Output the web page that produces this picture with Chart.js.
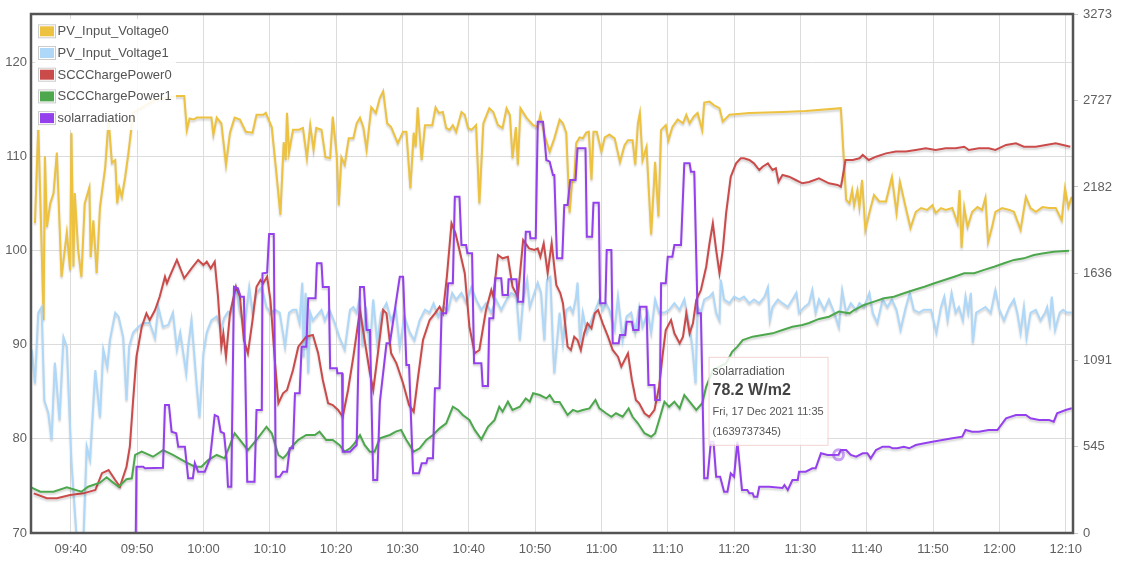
<!DOCTYPE html>
<html>
<head>
<meta charset="utf-8">
<script src="https://cdn.jsdelivr.net/npm/chart.js@4.4.1/dist/chart.umd.min.js"></script>
<style>
  html, body { margin: 0; padding: 0; background: #fff; }
  canvas { display: block; }
</style>
</head>
<body>
<canvas id="chart" width="1129" height="568"></canvas>
<script>
// series names / colours (legend order)
const seriesNames = ["PV_Input_Voltage0", "PV_Input_Voltage1", "SCCChargePower0", "SCCChargePower1", "solarradiation"];
const seriesColors = ["#edc240", "#afd8f8", "#cb4b4b", "#4da74d", "#9440ed"];

// axis ticks
const timeTicks = [580, 590, 600, 610, 620, 630, 640, 650, 660, 670, 680, 690, 700, 710, 720, 730]; // minutes after midnight
const voltTicks = [70, 80, 90, 100, 110, 120];
const powerTicks = [0, 545.45, 1090.9, 1636.35, 2181.8, 2727.25, 3272.7];

// data: [minutes after midnight, value]
const pvVoltage0 = [[574.6,102.9],[575.1,113.3],[575.9,92.6],[576.1,110.0],[576.4,102.5],[576.9,105.0],[577.4,106.1],[577.9,110.4],[578.6,97.2],[579.4,101.9],[579.9,97.9],[580.1,112.5],[580.4,98.3],[580.6,106.1],[581.1,100.1],[581.6,97.2],[582.1,105.0],[582.8,106.7],[583.0,99.3],[583.4,103.2],[583.9,97.6],[584.4,104.6],[585.2,108.9],[585.7,113.9],[586.2,109.3],[586.7,109.6],[587.0,105.0],[587.3,106.7],[587.7,105.7],[588.2,107.8],[588.7,110.4],[589.4,114.6],[592.7,116.0],[596.0,116.4],[597.1,116.4],[597.5,112.8],[597.9,114.0],[598.5,113.9],[599.0,114.1],[601.2,114.1],[601.5,112.3],[602.0,114.1],[602.7,113.5],[603.4,109.1],[604.0,112.5],[604.7,114.1],[605.5,113.9],[606.4,112.6],[607.4,112.5],[608.0,114.4],[609.0,114.4],[609.4,114.6],[610.3,113.1],[611.0,108.2],[611.6,103.8],[612.1,111.5],[612.4,109.6],[612.6,114.6],[612.9,110.4],[613.5,112.8],[614.3,112.8],[615.0,113.0],[615.6,109.8],[616.1,113.3],[616.6,110.7],[617.0,113.0],[617.8,112.8],[618.4,109.9],[619.1,109.8],[619.5,114.2],[620.1,110.1],[620.4,104.8],[620.8,109.9],[621.3,109.1],[621.9,111.9],[622.6,111.9],[623.1,113.5],[623.6,114.1],[624.1,113.1],[624.6,110.7],[625.3,115.2],[626.0,114.6],[626.6,116.2],[627.1,116.9],[627.7,113.5],[628.3,113.1],[629.3,111.4],[630.1,112.6],[630.6,112.6],[631.2,106.6],[631.7,112.5],[632.0,111.0],[632.3,115.2],[632.9,109.6],[633.4,113.3],[634.5,113.3],[635.0,115.2],[635.5,114.6],[636.1,114.7],[636.6,113.0],[637.1,112.8],[637.6,113.3],[638.1,112.6],[638.9,114.7],[639.4,114.4],[639.9,113.0],[640.4,112.8],[641.1,113.3],[641.6,105.0],[642.2,113.5],[643.1,115.1],[643.7,114.7],[644.4,113.3],[645.1,113.0],[645.7,115.1],[646.2,114.4],[646.6,109.8],[647.1,113.1],[647.4,109.1],[647.8,115.1],[648.7,114.1],[649.7,113.3],[650.4,113.1],[650.8,114.4],[651.4,112.3],[652.2,110.5],[652.9,111.9],[653.7,113.9],[654.2,113.5],[654.7,112.5],[655.2,104.0],[655.6,107.5],[655.9,107.5],[656.2,111.4],[656.7,112.0],[657.2,111.9],[657.7,112.5],[658.1,112.6],[658.5,107.5],[658.8,112.6],[659.3,112.6],[660.0,110.5],[660.5,112.0],[661.2,112.3],[662.0,111.9],[662.8,109.4],[663.5,111.2],[664.0,111.7],[664.7,111.7],[665.1,109.1],[665.5,113.5],[665.8,114.6],[666.2,109.6],[666.8,111.0],[667.5,101.7],[668.1,109.4],[668.6,103.6],[669.0,112.8],[669.7,113.3],[670.1,111.7],[670.7,113.1],[671.5,113.9],[672.3,113.5],[672.8,114.4],[673.3,113.5],[673.9,114.2],[674.5,114.6],[675.2,112.8],[675.5,115.7],[676.3,115.8],[677.0,115.4],[677.8,115.1],[678.3,113.7],[679.3,114.4],[682.3,114.6],[687.3,114.7],[690.8,114.8],[696.1,115.1],[696.9,105.4],[697.4,105.0],[697.8,106.4],[698.1,104.8],[698.6,106.4],[698.9,104.6],[699.3,107.5],[699.8,102.2],[700.4,104.0],[701.1,105.9],[701.9,105.2],[702.9,105.2],[703.8,107.8],[704.5,104.0],[705.0,107.3],[705.9,104.5],[706.6,102.4],[707.4,104.1],[708.2,104.5],[709.1,104.3],[709.9,104.8],[710.4,104.0],[711.2,104.5],[711.9,104.3],[712.9,104.5],[713.7,102.9],[714.0,106.4],[714.3,100.3],[714.7,104.6],[715.2,102.5],[715.9,104.1],[716.7,104.6],[717.4,104.3],[717.9,105.6],[718.3,100.9],[718.9,102.5],[719.4,104.1],[720.4,104.5],[721.5,104.3],[722.2,104.1],[723.2,102.2],[724.0,105.7],[724.7,104.5],[725.5,104.1],[726.5,104.6],[727.5,104.5],[728.5,104.5],[729.4,103.2],[729.9,106.6],[730.4,104.6],[730.9,105.7]];

const pvVoltage1 = [[574.1,89.5],[574.6,85.9],[575.1,93.4],[575.6,94.0],[576.0,84.1],[576.6,82.8],[577.1,79.9],[577.6,88.1],[578.3,82.0],[578.9,90.8],[579.4,89.8],[580.1,77.5],[580.9,69.3],[581.9,69.3],[582.4,79.2],[582.9,77.8],[583.7,87.3],[584.4,82.3],[584.9,89.5],[585.5,87.6],[585.9,90.5],[586.7,93.4],[587.2,93.0],[587.9,90.8],[588.4,84.1],[588.8,89.8],[589.4,91.3],[590.2,91.9],[590.9,92.3],[591.9,92.3],[592.7,90.7],[593.2,94.0],[593.9,91.9],[594.7,92.1],[595.4,93.4],[596.0,89.5],[596.5,91.3],[597.4,87.0],[597.7,89.8],[598.2,92.6],[599.0,85.5],[599.4,82.3],[600.0,89.1],[600.5,91.3],[601.2,92.6],[602.0,93.0],[602.7,91.6],[603.1,92.8],[603.7,93.5],[604.2,93.4],[604.9,96.1],[605.5,93.5],[606.2,91.9],[606.9,96.1],[607.4,93.4],[608.0,95.5],[608.8,96.1],[609.5,94.0],[610.1,93.4],[610.8,93.7],[611.5,93.4],[612.3,89.8],[612.9,93.4],[613.5,93.7],[614.0,93.7],[614.5,92.3],[614.9,96.6],[615.1,88.7],[615.4,95.5],[615.8,87.0],[616.1,93.4],[616.5,92.6],[617.0,93.0],[617.8,93.7],[618.3,92.6],[619.0,93.7],[619.8,92.3],[620.5,90.8],[621.3,89.5],[622.1,93.7],[622.6,94.0],[623.1,93.4],[623.6,95.1],[624.0,89.8],[624.5,94.0],[625.1,89.5],[625.6,94.8],[626.2,90.2],[626.8,93.4],[627.6,94.4],[628.3,92.6],[629.0,93.7],[629.6,89.8],[630.3,93.0],[631.1,91.3],[631.8,90.5],[632.6,92.6],[633.4,93.7],[634.1,93.4],[634.7,94.4],[635.4,93.0],[636.1,94.0],[636.9,93.7],[637.5,95.5],[638.1,94.8],[638.9,95.5],[639.6,94.5],[640.4,96.1],[641.1,94.8],[641.9,93.7],[642.6,94.4],[643.4,93.4],[644.1,94.8],[644.9,93.7],[645.7,94.8],[646.4,95.5],[647.2,95.1],[647.7,90.5],[648.2,94.8],[648.8,96.9],[649.2,94.0],[649.9,95.5],[650.4,96.6],[650.9,95.5],[651.4,90.5],[651.8,96.9],[652.3,97.2],[652.7,89.8],[652.9,87.0],[653.7,93.4],[654.2,90.2],[654.7,93.7],[655.3,94.0],[655.7,93.4],[656.2,95.1],[656.4,96.6],[656.8,90.2],[657.2,93.4],[657.8,91.3],[658.5,92.6],[659.1,93.7],[659.7,94.8],[660.2,93.7],[660.7,94.4],[661.2,93.7],[662.0,91.6],[662.5,95.1],[663.2,90.5],[663.8,93.0],[664.5,93.4],[665.1,91.3],[665.7,94.0],[666.2,91.9],[667.0,93.4],[667.5,91.3],[668.1,94.8],[668.7,93.4],[669.5,93.4],[670.2,93.7],[671.0,94.4],[671.8,93.7],[672.5,94.8],[673.3,91.9],[673.7,89.8],[674.2,85.9],[674.5,94.0],[675.0,93.4],[675.5,94.8],[676.3,95.1],[676.8,95.5],[677.3,93.4],[677.8,92.6],[678.0,96.9],[678.5,94.8],[679.3,94.4],[680.0,95.1],[680.8,94.8],[681.5,95.1],[682.3,94.4],[683.0,94.8],[683.8,94.4],[684.6,95.1],[685.1,96.1],[685.4,92.6],[685.8,94.0],[686.6,94.8],[687.3,94.4],[688.1,94.0],[688.8,94.8],[689.4,95.5],[689.8,93.4],[690.6,94.0],[691.3,94.4],[691.8,95.8],[692.3,93.4],[692.8,94.8],[693.6,93.7],[694.3,94.8],[695.1,93.4],[695.8,91.9],[696.3,95.8],[696.9,93.4],[697.6,94.4],[698.4,93.7],[698.9,94.4],[699.6,94.0],[700.4,95.5],[700.9,93.4],[701.6,92.3],[702.4,94.8],[703.1,94.0],[703.8,94.8],[704.5,93.7],[705.1,91.6],[705.9,94.0],[706.5,95.5],[707.1,93.7],[707.9,93.4],[708.6,93.7],[709.7,93.7],[710.5,91.3],[711.2,94.0],[711.7,95.1],[712.2,92.6],[712.8,95.5],[713.4,93.4],[713.9,94.0],[714.5,92.6],[714.9,95.1],[715.3,93.4],[715.7,95.5],[716.0,90.2],[716.5,93.4],[717.2,93.7],[717.9,94.0],[718.7,93.4],[719.4,95.8],[720.0,93.7],[720.7,92.6],[721.5,94.0],[722.2,94.8],[722.7,93.4],[723.2,91.3],[723.7,94.0],[724.1,90.8],[724.7,93.4],[725.5,93.7],[726.2,92.6],[726.9,93.4],[727.2,94.0],[727.6,92.3],[727.9,95.1],[728.4,91.6],[729.1,93.4],[729.6,93.7],[730.2,93.4],[730.9,93.4]];

const sccPower0 = [[574.4,250],[576.4,219],[577.9,219],[579.9,240],[581.9,250],[583.7,271],[584.7,377],[585.7,397],[586.7,334],[587.4,292],[588.4,418],[588.9,544],[589.4,839],[589.9,1112],[590.7,1301],[591.4,1385],[591.9,1343],[592.7,1406],[593.4,1490],[594.2,1616],[594.5,1575],[594.9,1616],[596.0,1722],[597.1,1606],[598.2,1669],[599.2,1722],[600.0,1690],[600.5,1711],[601.1,1669],[601.7,1711],[602.2,1490],[602.7,1175],[603.0,1259],[603.4,1112],[604.0,1385],[604.9,1553],[605.5,1490],[606.1,1217],[606.7,1133],[607.4,1343],[608.0,1553],[608.6,1595],[609.0,1575],[609.6,1616],[610.1,1469],[610.8,1070],[611.3,818],[612.0,881],[612.6,902],[613.5,1028],[614.3,1175],[615.5,1238],[616.5,1249],[617.3,1133],[618.0,965],[618.8,818],[619.5,807],[620.3,776],[621.0,733],[621.8,902],[622.6,1112],[623.6,1406],[624.3,1217],[625.1,1007],[625.6,902],[626.3,1133],[627.1,1406],[627.6,1385],[628.3,1133],[629.1,1070],[630.1,944],[631.0,807],[631.7,765],[632.3,965],[633.1,1217],[634.1,1343],[634.9,1385],[635.6,1427],[636.1,1385],[636.7,1616],[637.4,1953],[638.0,1890],[638.6,1785],[639.4,1638],[640.1,1301],[640.9,1133],[641.6,1154],[642.6,1406],[643.4,1532],[643.7,1490],[644.4,1753],[645.1,1732],[645.9,1742],[646.6,1553],[647.4,1490],[648.2,1848],[649.1,1795],[649.9,1785],[650.4,1795],[650.8,1742],[651.3,1827],[651.9,1640],[652.5,1829],[653.2,1564],[653.8,1513],[654.2,1449],[654.9,1175],[655.4,1154],[655.9,1238],[656.4,1217],[656.9,1154],[657.4,1259],[657.9,1322],[658.5,1291],[659.0,1385],[659.5,1406],[660.2,1322],[661.0,1238],[661.7,1154],[662.5,1112],[663.0,1049],[664.0,1133],[664.6,965],[665.2,839],[665.7,818],[666.5,755],[667.2,733],[668.0,776],[668.7,923],[669.2,1112],[669.7,1280],[670.5,1343],[671.0,1259],[671.8,1196],[672.3,1238],[672.8,1385],[673.3,1259],[673.8,1322],[674.3,1469],[675.0,1532],[675.8,1679],[676.3,1827],[676.8,1953],[677.3,1785],[677.8,1638],[678.3,1785],[678.8,2016],[679.5,2247],[680.3,2331],[681.0,2363],[681.5,2363],[682.3,2352],[683.0,2331],[683.8,2289],[684.3,2310],[685.1,2331],[685.8,2289],[686.3,2300],[686.7,2215],[687.3,2258],[688.3,2247],[689.3,2226],[690.3,2205],[691.3,2213],[692.8,2237],[694.3,2205],[695.6,2195],[696.1,2184],[696.3,2226],[696.8,2352],[697.9,2352],[698.9,2363],[699.4,2384],[700.3,2352],[701.4,2373],[702.9,2394],[704.4,2405],[705.9,2405],[707.4,2415],[708.9,2426],[710.4,2415],[711.9,2426],[713.4,2426],[714.7,2436],[715.4,2415],[716.9,2426],[718.4,2426],[719.4,2415],[721.0,2447],[722.5,2457],[723.7,2436],[725.5,2436],[727.0,2447],[728.5,2457],[730.7,2436]];

const sccPower1 = [[574.1,286],[575.4,260],[577.4,260],[579.4,288],[581.6,260],[582.6,292],[584.4,317],[585.4,351],[586.2,324],[587.2,292],[588.4,339],[589.2,345],[589.7,492],[590.7,513],[592.4,481],[593.9,523],[595.4,492],[597.2,450],[598.7,418],[599.7,418],[600.7,460],[602.0,492],[603.2,471],[604.7,629],[605.5,587],[606.7,523],[608.0,587],[609.5,670],[610.3,629],[611.3,492],[612.0,471],[612.5,492],[613.3,544],[614.3,587],[615.5,618],[616.8,618],[617.5,639],[618.5,587],[619.5,587],[620.5,555],[621.3,513],[622.1,534],[622.8,566],[623.6,618],[624.3,555],[625.1,513],[625.8,513],[626.6,597],[627.3,607],[628.1,618],[629.0,639],[629.8,650],[630.6,587],[631.7,513],[632.6,534],[633.6,587],[634.6,618],[635.6,660],[636.6,692],[637.6,796],[638.4,776],[639.1,744],[640.1,713],[640.9,650],[641.9,591],[642.9,670],[643.9,713],[644.6,796],[645.1,765],[645.9,828],[646.6,776],[647.7,796],[648.6,849],[649.2,828],[649.7,881],[650.7,870],[651.7,849],[652.2,870],[652.9,826],[653.7,826],[654.9,744],[655.7,776],[656.4,765],[657.2,776],[658.2,786],[659.1,839],[659.7,786],[660.7,755],[661.5,733],[662.2,755],[663.2,733],[664.1,786],[664.7,733],[665.5,692],[666.5,629],[667.5,607],[668.1,629],[668.7,713],[669.5,828],[670.2,796],[671.0,828],[671.8,786],[672.5,870],[673.3,828],[674.3,776],[675.2,818],[675.8,923],[676.8,1028],[677.8,1049],[678.8,1070],[679.7,1143],[680.5,1175],[681.3,1217],[682.8,1238],[684.3,1249],[685.8,1259],[687.3,1280],[688.8,1301],[690.3,1312],[691.3,1324],[692.8,1350],[694.3,1364],[695.8,1396],[697.4,1385],[698.1,1406],[699.6,1438],[701.1,1459],[702.6,1480],[704.1,1490],[705.6,1512],[707.1,1532],[708.7,1553],[710.2,1575],[711.7,1595],[713.2,1616],[714.7,1638],[716.2,1638],[717.7,1659],[719.2,1679],[720.7,1701],[722.2,1722],[723.7,1732],[725.2,1753],[726.7,1764],[728.2,1774],[730.5,1780]];

const solarRadiation = [[589.8,0],[589.9,66.3],[590.9,66.3],[591.2,64.7],[593.9,65.3],[594.2,128],[594.8,128],[595.2,101.3],[595.9,99.7],[596.2,86.3],[597.2,86.3],[597.7,54.7],[598.4,54.7],[598.7,70],[599.2,61.3],[600.2,61.3],[601.0,74.7],[601.7,118],[602.2,116.3],[602.6,101.3],[603.1,99.7],[603.5,73],[603.7,46.3],[604.2,46.3],[604.6,246.3],[605.2,244.7],[605.6,236.3],[606.1,236.3],[606.6,51.3],[607.7,51.3],[608.0,123],[608.8,123],[608.9,259.7],[609.6,260.3],[609.9,299],[610.6,299],[610.9,56.3],[611.5,56.3],[612.0,61.3],[612.6,61.3],[613.0,84.7],[613.5,84.7],[613.8,139.7],[614.5,139.7],[614.8,186.3],[615.5,186.3],[615.8,234.7],[616.9,234.7],[617.1,269.7],[617.8,269.7],[618.0,246],[618.9,246],[619.1,164.7],[620.1,164.7],[620.2,159.7],[620.9,159.7],[621.0,81.3],[622.1,81.3],[622.6,84.7],[623.1,88],[623.6,246],[624.2,246],[624.6,203],[625.1,203],[625.6,53],[626.2,53],[626.6,131.3],[627.6,189.7],[628.1,189.7],[629.6,256.3],[630.1,256.3],[630.6,168],[631.0,168],[631.6,59.7],[632.5,59.7],[632.9,69.7],[633.6,69.7],[633.8,74.7],[634.6,74.7],[634.9,144.7],[635.6,144.7],[635.9,219.7],[636.6,219.7],[636.9,249.7],[637.6,249.7],[637.9,336.3],[638.6,336.3],[638.9,288],[639.6,288],[639.8,279.7],[640.5,279.7],[640.8,169.7],[641.9,169.7],[642.1,147],[642.9,147],[643.1,214.7],[643.7,214.7],[644.0,254.7],[644.9,254.7],[645.1,238],[645.9,238],[646.0,253.7],[647.2,253.7],[647.4,231.3],[648.2,231.3],[648.6,301.3],[649.2,301.3],[649.3,294.7],[650.1,294.7],[650.4,411.3],[651.2,411.3],[651.7,373],[652.2,371.3],[652.7,358],[652.9,358],[653.3,274.7],[654.1,274.7],[654.4,328],[654.9,328],[655.3,353],[656.1,353],[656.4,384.7],[657.6,384.7],[657.8,296.3],[658.6,296.3],[658.8,330.3],[659.6,330.3],[659.8,229.7],[660.6,229.7],[660.8,283],[661.5,283],[661.7,189.7],[662.6,189.7],[662.8,198],[663.6,198],[663.8,211.3],[664.6,211.3],[664.8,203],[665.6,203],[665.8,226.3],[666.8,226.3],[667.1,148],[668.0,148],[668.1,133],[668.8,133],[669.0,249.7],[669.7,249.7],[670.0,276.3],[670.7,276.3],[671.0,288],[672.0,288],[672.5,369.7],[673.3,369.7],[673.5,361.3],[674.0,361.3],[674.5,219.7],[675.0,219.7],[675.5,54.7],[676.0,54.7],[676.5,91.3],[676.9,91.3],[677.3,56.3],[677.9,56.3],[678.5,41.3],[679.0,41.3],[679.5,59.7],[680.0,56.3],[680.5,91.3],[681.2,43],[682.0,43],[682.3,39.7],[682.8,39.7],[683.0,36.3],[683.5,36.3],[683.8,46.3],[685.3,46.3],[687.3,45],[687.6,48],[688.1,43],[688.8,53],[689.6,53],[689.8,61.3],[690.8,61.3],[691.8,64.7],[692.3,64.7],[693.1,79.7],[694.1,78],[694.8,78],[695.75,78.2],[696.1,83],[696.9,83],[697.6,78],[698.4,76.3],[699.4,79.7],[700.1,79.7],[700.6,74.7],[701.4,83],[702.4,86.3],[703.4,86.3],[703.9,84.7],[704.6,84.7],[705.6,86.3],[706.4,84.7],[707.4,88],[708.7,89.7],[709.9,91.3],[711.4,93],[712.9,94.7],[714.4,96.3],[714.9,103],[715.9,101.3],[716.9,101.3],[718.4,103],[719.7,103],[721.0,114.7],[722.5,118],[724.0,118],[724.7,114.7],[726.0,113],[727.5,113],[728.2,111.3],[728.7,119.7],[730.0,123],[730.9,124.7]];

// hovered point shown in the tooltip
const hoverTime = 695.75;           // 11:35:45
const hoverStamp = 1639737345;
const hoverUnit = "W/m2";

const FONT = "'Liberation Sans', Arial, Helvetica, sans-serif";
Chart.defaults.font.family = FONT;
Chart.defaults.color = "#606060";

const toPoints = pairs => pairs.map(([x, y]) => ({ x, y }));

function clock(m) {
  const h = Math.floor(m / 60), mm = Math.round(m - h * 60);
  return String(h).padStart(2, "0") + ":" + String(mm).padStart(2, "0");
}

function stampText(ts) {
  const d = new Date((ts + 3600) * 1000); // CET
  const days = ["Sun", "Mon", "Tue", "Wed", "Thu", "Fri", "Sat"];
  const months = ["Jan", "Feb", "Mar", "Apr", "May", "Jun", "Jul", "Aug", "Sep", "Oct", "Nov", "Dec"];
  return days[d.getUTCDay()] + ", " + d.getUTCDate() + " " + months[d.getUTCMonth()] + " " +
    d.getUTCFullYear() + " " + String(d.getUTCHours()).padStart(2, "0") + ":" + String(d.getUTCMinutes()).padStart(2, "0");
}

// soft shadow under every line, flot style
const shadowPlugin = {
  id: "lineShadow",
  beforeDatasetDraw(chart) {
    const ctx = chart.ctx;
    ctx.save();
    ctx.shadowColor = "rgba(0,0,0,0.18)";
    ctx.shadowBlur = 2;
    ctx.shadowOffsetX = 0;
    ctx.shadowOffsetY = 2;
  },
  afterDatasetDraw(chart) {
    chart.ctx.restore();
  }
};

// frame, legend and tooltip on top of the lines
const overlayPlugin = {
  id: "overlay",
  afterDatasetsDraw(chart) {
    const ctx = chart.ctx;
    const a = chart.chartArea;

    // plot border
    ctx.save();
    ctx.strokeStyle = "#545454";
    ctx.lineWidth = 2.5;
    ctx.strokeRect(a.left, a.top, a.right - a.left, a.bottom - a.top);

    // legend
    ctx.fillStyle = "rgba(255,255,255,0.88)";
    ctx.fillRect(a.left + 4, a.top + 5, 141, 111);
    ctx.font = "13px " + FONT;
    ctx.textBaseline = "middle";
    ctx.textAlign = "left";
    seriesNames.forEach((name, i) => {
      const cy = a.top + 17.3 + i * 21.7;
      const bx = a.left + 7;
      ctx.fillStyle = "#fff";
      ctx.fillRect(bx, cy - 7, 18, 14);
      ctx.strokeStyle = "#ccc";
      ctx.lineWidth = 1;
      ctx.strokeRect(bx + 0.5, cy - 6.5, 17, 13);
      ctx.fillStyle = seriesColors[i];
      ctx.fillRect(bx + 2, cy - 5, 14, 10);
      ctx.fillStyle = "#545454";
      ctx.fillText(name, a.left + 26.5, cy + 0.5);
    });

    // tooltip for the hovered solar point
    const pt = solarRadiation.find(p => p[0] === hoverTime);
    const px = chart.scales.x.getPixelForValue(pt[0]);
    const py = chart.scales.ySolar.getPixelForValue(pt[1]);
    ctx.beginPath();
    ctx.arc(px, py, 5, 0, Math.PI * 2);
    ctx.lineWidth = 3;
    ctx.strokeStyle = "rgba(148,64,237,0.5)";
    ctx.stroke();

    const bx = px - 130, by = py - 98, bw = 119, bh = 88;
    ctx.fillStyle = "rgba(255,255,255,0.85)";
    ctx.fillRect(bx, by, bw, bh);
    ctx.strokeStyle = "#f4d2d2";
    ctx.lineWidth = 1;
    ctx.strokeRect(bx + 0.5, by + 0.5, bw, bh);
    ctx.fillStyle = "#555";
    ctx.font = "12px " + FONT;
    ctx.fillText(seriesNames[4], bx + 4, by + 15);
    ctx.fillStyle = "#444";
    ctx.font = "bold 16px " + FONT;
    ctx.fillText(pt[1].toFixed(1) + " " + hoverUnit, bx + 4, by + 33.5);
    ctx.fillStyle = "#555";
    ctx.font = "11px " + FONT;
    ctx.fillText(stampText(hoverStamp), bx + 4, by + 55.5);
    ctx.fillText("(" + hoverStamp + ")", bx + 4, by + 75);
    ctx.restore();
  }
};

const seriesData = [pvVoltage0, pvVoltage1, sccPower0, sccPower1, solarRadiation];
const seriesAxis = ["yVolt", "yVolt", "yPower", "yPower", "ySolar"];

new Chart(document.getElementById("chart"), {
  type: "line",
  data: {
    datasets: seriesData.map((d, i) => ({
      label: seriesNames[i],
      data: toPoints(d),
      yAxisID: seriesAxis[i],
      borderColor: seriesColors[i],
      backgroundColor: seriesColors[i],
      borderWidth: 2,
      pointRadius: 0,
      tension: 0,
      fill: false,
      order: 5 - i
    }))
  },
  options: {
    responsive: false,
    animation: false,
    events: [],
    layout: { padding: { top: 14, left: 0, right: 0, bottom: 0 } },
    plugins: { legend: { display: false }, tooltip: { enabled: false } },
    scales: {
      x: {
        type: "linear",
        min: 574,
        max: 731.1,
        afterBuildTicks: s => { s.ticks = timeTicks.map(v => ({ value: v })); },
        afterFit: s => { s.height = 35; },
        ticks: { callback: v => clock(v), font: { size: 13 }, padding: 9, maxRotation: 0, autoSkip: false },
        grid: { color: "#dcdcdc", drawTicks: false },
        border: { display: false }
      },
      yVolt: {
        position: "left",
        min: 70,
        max: 125.1,
        afterBuildTicks: s => { s.ticks = voltTicks.map(v => ({ value: v })); },
        afterFit: s => { s.width = 31; },
        ticks: { font: { size: 13 }, padding: 4 },
        grid: { color: "#dcdcdc", drawTicks: false },
        border: { display: false }
      },
      yPower: {
        position: "right",
        min: 0,
        max: 3272.7,
        afterBuildTicks: s => { s.ticks = powerTicks.map(v => ({ value: v })); },
        afterFit: s => { s.width = 56; },
        ticks: { callback: v => Math.round(v), font: { size: 13 }, padding: 5 },
        grid: { drawOnChartArea: false, drawTicks: true, tickLength: 5, color: "#c8c8c8" },
        border: { display: false }
      },
      ySolar: {
        display: false,
        min: 0,
        max: 519
      }
    }
  },
  plugins: [shadowPlugin, overlayPlugin]
});
</script>
</body>
</html>
